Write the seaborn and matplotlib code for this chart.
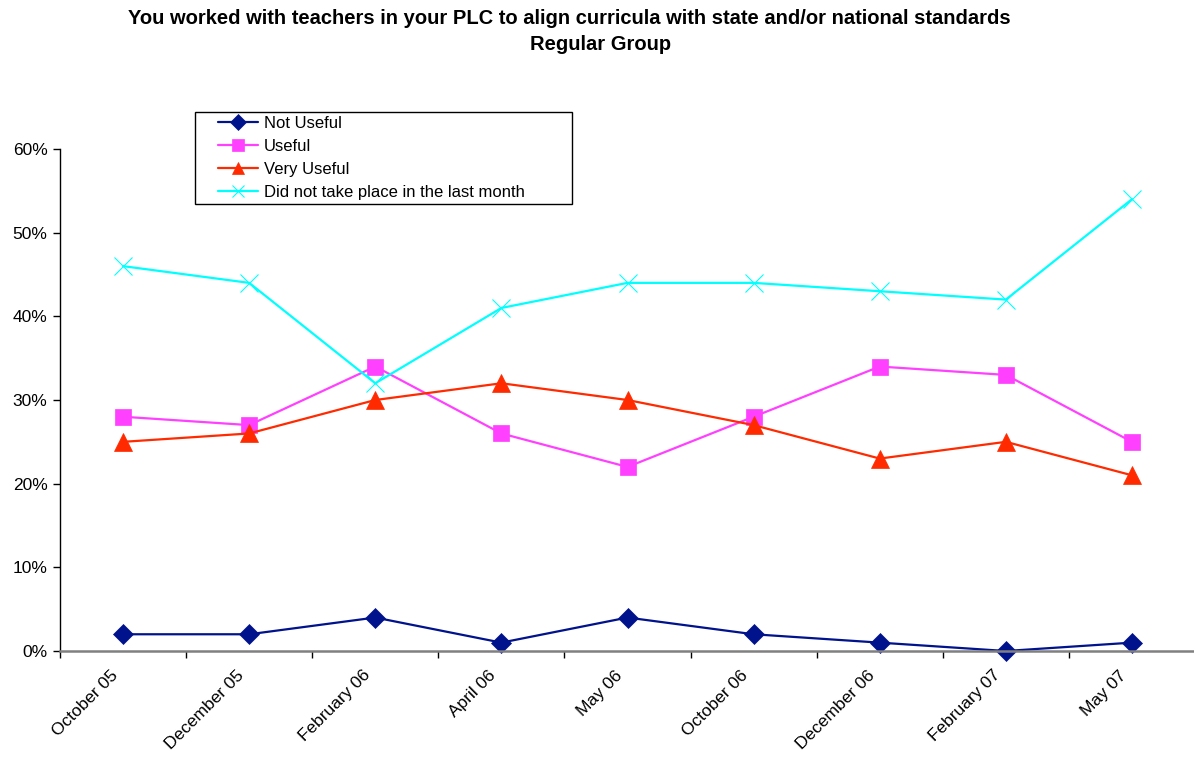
import numpy as np
import pandas as pd
import matplotlib
matplotlib.use('Agg')
import matplotlib.pyplot as plt
import matplotlib.transforms as mtransforms
from matplotlib.patches import Rectangle
import seaborn as sns
from matplotlib.ticker import PercentFormatter, FixedLocator

months = ['October 05', 'December 05', 'February 06', 'April 06', 'May 06',
          'October 06', 'December 06', 'February 07', 'May 07']
not_useful = [2, 2, 4, 1, 4, 2, 1, 0, 1]
useful = [28, 27, 34, 26, 22, 28, 34, 33, 25]
very_useful = [25, 26, 30, 32, 30, 27, 23, 25, 21]
did_not = [46, 44, 32, 41, 44, 44, 43, 42, 54]

series = ['Not Useful', 'Useful', 'Very Useful', 'Did not take place in the last month']
rows = []
for name, vals in zip(series, [not_useful, useful, very_useful, did_not]):
    for i, v in enumerate(vals):
        rows.append({'pos': i, 'value': v / 100, 'series': name})
data = pd.DataFrame(rows)

sns.set_style('white')
plt.rcParams['font.family'] = ['Liberation Sans', 'DejaVu Sans']
plt.rcParams['text.color'] = 'black'
plt.rcParams['xtick.color'] = 'black'
plt.rcParams['ytick.color'] = 'black'

colors = {'Not Useful': '#00138C', 'Useful': '#FF40FF',
          'Very Useful': '#FF2A00', 'Did not take place in the last month': '#00FFFF'}
markers = {'Not Useful': 'D', 'Useful': 's', 'Very Useful': '^',
           'Did not take place in the last month': 'x'}
msize = {'Not Useful': 10, 'Useful': 11.5, 'Very Useful': 13,
         'Did not take place in the last month': 13}

fig = plt.figure(figsize=(11.94, 7.59), dpi=100)
ax = fig.add_axes([60 / 1194, 1 - 651 / 759, 1135 / 1194, 502 / 759])

for name in series:
    sub = data[data['series'] == name]
    is_x = name == 'Did not take place in the last month'
    sns.lineplot(data=sub, x='pos', y='value', color=colors[name], marker=markers[name],
                 markersize=msize[name], markeredgecolor=colors[name],
                 markeredgewidth=0.8 if is_x else 0.5,
                 linewidth=1.6, label=name, ax=ax)

ax.set_xlim(-0.5, 8.5)
ax.set_ylim(0, 0.6)
ax.yaxis.set_major_locator(FixedLocator(np.arange(0, 0.61, 0.1)))
ax.yaxis.set_major_formatter(PercentFormatter(1.0, decimals=0))
ax.set_xticks(range(len(months)))
ax.set_xticklabels(months, rotation=45, ha='right', rotation_mode='anchor', fontsize=12.5)
ax.set_xticks(np.arange(-0.5, 9, 1), minor=True)
ax.tick_params(axis='x', which='major', bottom=True, length=0, pad=12)
ax.tick_params(axis='x', which='minor', bottom=True, length=5, width=1, color='black', direction='out')
ax.tick_params(axis='y', left=True, length=5, width=1, color='black', direction='out',
               labelsize=12.5, pad=4, labelcolor='black')
ax.tick_params(axis='x', labelcolor='black')
offset = mtransforms.ScaledTranslation(-13 / 100, 0, fig.dpi_scale_trans)
for lbl in ax.get_xticklabels():
    lbl.set_transform(lbl.get_transform() + offset)
ax.set_xlabel('')
ax.set_ylabel('')
for s in ['top', 'right']:
    ax.spines[s].set_visible(False)
ax.spines['left'].set_color('black')
ax.spines['left'].set_linewidth(1.0)
ax.spines['bottom'].set_color('#808080')
ax.spines['bottom'].set_linewidth(1.8)
for line in ax.lines:
    line.set_clip_on(False)

leg = ax.legend(loc='upper left', bbox_to_anchor=(218 / 1194, 1 - 116 / 759),
                bbox_transform=fig.transFigure, frameon=False,
                fontsize=12, handlelength=2.4, handletextpad=0.35, labelspacing=0.48,
                borderpad=0.0, borderaxespad=0)
for h in leg.legend_handles:
    h.set_markersize(8)
fig.patches.append(Rectangle((195 / 1194, 1 - 204 / 759), 377 / 1194, 92 / 759,
                             transform=fig.transFigure, fill=False, edgecolor='black',
                             linewidth=1, figure=fig))

fig.text(569 / 1194, 1 - 18 / 759,
         'You worked with teachers in your PLC to align curricula with state and/or national standards',
         ha='center', va='center', fontsize=14.5, fontweight='bold')
fig.text(601 / 1194, 1 - 45 / 759, 'Regular Group', ha='center', va='center',
         fontsize=14.5, fontweight='bold')

fig.savefig('out.png', dpi=100)
